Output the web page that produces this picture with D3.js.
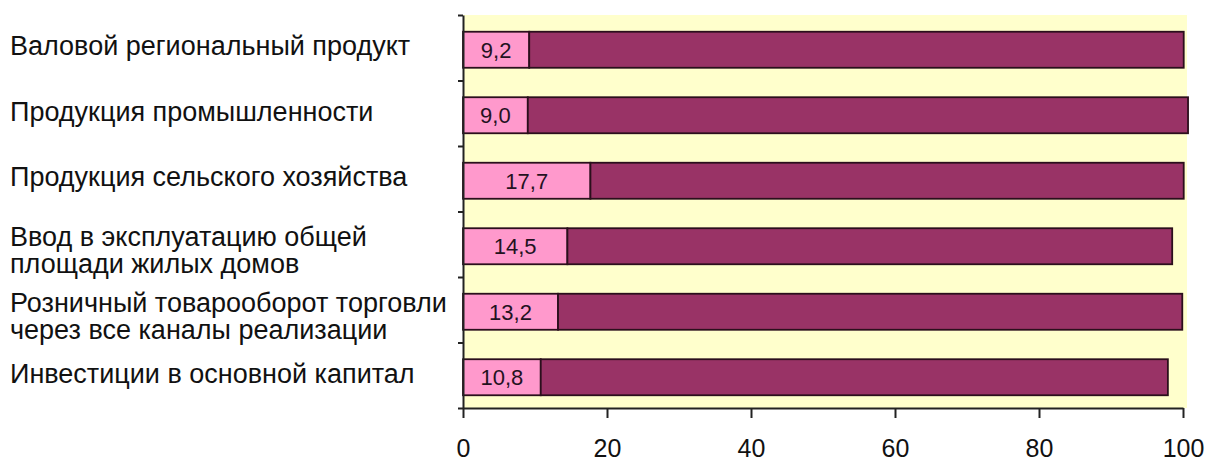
<!DOCTYPE html>
<html><head><meta charset="utf-8">
<script src="https://cdn.jsdelivr.net/npm/d3@7"></script>
<style>
html,body{margin:0;padding:0;background:#fff;}
svg{display:block;font-family:"Liberation Sans",Arial,sans-serif;}
</style></head>
<body>
<svg id="chart" width="1207" height="461"></svg>
<script>
const categories = [
  ["Валовой региональный продукт"],
  ["Продукция промышленности"],
  ["Продукция сельского хозяйства"],
  ["Ввод в эксплуатацию общей", "площади жилых домов"],
  ["Розничный товарооборот торговли", "через все каналы реализации"],
  ["Инвестиции в основной капитал"]
];
const regionShare = [9.2, 9.0, 17.7, 14.5, 13.2, 10.8];
const restShare = [90.9, 91.7, 82.4, 84.0, 86.7, 87.1];
const xTicks = [0, 20, 40, 60, 80, 100];

(function () {
const svg = d3.select("#chart");
const pLeft = 463, pRight = 1183, pTop = 15, pBottom = 408;
const keys = categories.map((c, i) => i);

const x = d3.scaleLinear().domain([0, 100]).range([pLeft, pRight]);
const y = d3.scaleBand().domain(keys).range([pTop, pBottom]).paddingInner(0.45).paddingOuter(0.225);
const yEdge = d3.scaleLinear().domain([0, categories.length]).range([pTop, pBottom]);

svg.append("rect").attr("x", pLeft).attr("y", pTop)
  .attr("width", pRight - pLeft + 4).attr("height", pBottom - pTop)
  .attr("fill", "#ffffcc");

const rows = keys.map(i => ({i, a: regionShare[i], b: restShare[i]}));

const g = svg.append("g").attr("transform", "translate(0,2)");
g.selectAll("rect.a").data(rows).join("rect").attr("class", "a")
  .attr("x", d => x(0)).attr("y", d => y(d.i))
  .attr("width", d => x(d.a) - x(0)).attr("height", y.bandwidth())
  .attr("fill", "#ff99cc").attr("stroke", "#2b0f1c").attr("stroke-width", 1.8);
g.selectAll("rect.b").data(rows).join("rect").attr("class", "b")
  .attr("x", d => x(d.a)).attr("y", d => y(d.i))
  .attr("width", d => x(d.a + d.b) - x(d.a)).attr("height", y.bandwidth())
  .attr("fill", "#993366").attr("stroke", "#2b0f1c").attr("stroke-width", 1.8);
g.selectAll("text.v").data(rows).join("text").attr("class", "v")
  .attr("x", d => (x(0) + x(d.a)) / 2).attr("y", d => y(d.i) + y.bandwidth() / 2)
  .attr("dy", "0.36em").attr("text-anchor", "middle")
  .attr("font-size", 22).attr("fill", "#24121f")
  .text(d => d.a.toFixed(1).replace(".", ","));

const ya = svg.append("g").attr("transform", `translate(${pLeft},0)`)
  .call(d3.axisLeft(yEdge).tickValues(d3.range(categories.length + 1)).tickFormat("").tickSize(5).tickSizeOuter(0));
ya.selectAll("path,line").attr("stroke", "#222").attr("stroke-width", 2);

const xa = svg.append("g").attr("transform", `translate(0,${pBottom})`)
  .call(d3.axisBottom(x).tickValues(xTicks).tickSize(10).tickSizeOuter(0).tickPadding(21));
xa.selectAll("path,line").attr("stroke", "#222").attr("stroke-width", 2);
xa.selectAll("text").attr("font-size", 25).attr("fill", "#111")
  .attr("font-family", "Liberation Sans, Arial, sans-serif");

const lab = svg.append("g").selectAll("text").data(rows).join("text")
  .attr("font-size", 27).attr("fill", "#111")
  .attr("y", d => y(d.i) + 2 + y.bandwidth() / 2);
lab.each(function (d) {
  const lines = categories[d.i];
  const t = d3.select(this);
  const n = lines.length;
  lines.forEach((s, k) => {
    t.append("tspan").attr("x", 10)
      .attr("dy", k === 0 ? (n === 1 ? "0.2em" : "0em") : "1.0em")
      .text(s);
  });
});
})();
</script>
</body></html>
